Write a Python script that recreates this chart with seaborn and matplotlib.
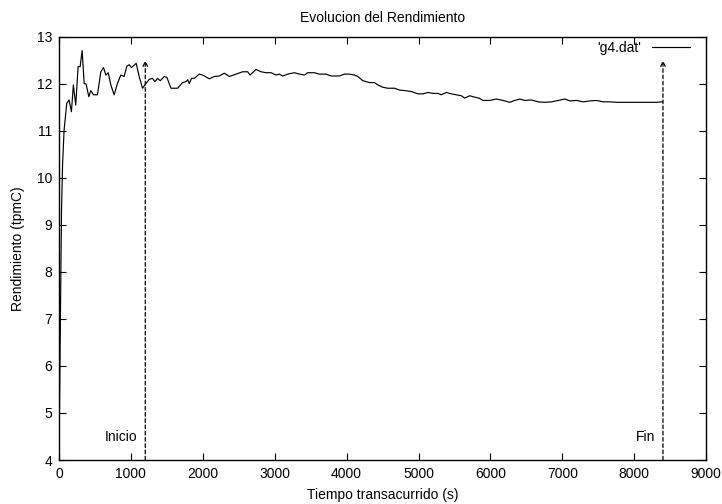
import matplotlib
matplotlib.use("Agg")
import matplotlib.pyplot as plt
import seaborn as sns
import pandas as pd

tiempo = [0, 10, 20, 35, 50, 71, 108, 140, 173, 200, 233, 266, 294, 322, 350, 377, 415, 443,
          480, 535, 582, 619, 652, 684, 721, 767, 813, 860, 906, 944, 976, 1008, 1046, 1074,
          1115, 1162, 1195, 1255, 1300, 1334, 1370, 1408, 1464, 1501, 1557, 1650, 1719, 1766,
          1789, 1812, 1844, 1882, 1951, 1998, 2091, 2160, 2230, 2299, 2369, 2462, 2554, 2624,
          2657, 2740, 2810, 2880, 2950, 3019, 3065, 3111, 3181, 3274, 3344, 3413, 3459, 3552,
          3622, 3715, 3785, 3901, 3970, 4040, 4110, 4156, 4226, 4319, 4388, 4434, 4504, 4574,
          4667, 4737, 4806, 4900, 4992, 5062, 5131, 5201, 5270, 5317, 5387, 5457, 5526, 5596,
          5642, 5712, 5781, 5841, 5897, 5990, 6083, 6175, 6268, 6338, 6408, 6478, 6571, 6663,
          6756, 6849, 6942, 7035, 7105, 7197, 7290, 7383, 7476, 7569, 7662, 7755, 7848, 7941,
          8033, 8126, 8219, 8312, 8396]
rendimiento = [4.0, 5.5, 7.2, 9.3, 10.3, 11.02, 11.59, 11.66, 11.41, 11.98, 11.55, 12.37, 12.37,
               12.71, 12.01, 12.0, 11.73, 11.86, 11.77, 11.77, 12.26, 12.35, 12.19, 12.24, 11.98,
               11.77, 12.01, 12.19, 12.16, 12.38, 12.41, 12.35, 12.40, 12.44, 12.16, 11.91, 11.98,
               12.10, 12.12, 12.05, 12.12, 12.07, 12.16, 12.14, 11.91, 11.91, 12.03, 12.05, 12.09,
               12.01, 12.12, 12.12, 12.21, 12.19, 12.11, 12.16, 12.17, 12.23, 12.16, 12.21, 12.26,
               12.26, 12.19, 12.31, 12.26, 12.24, 12.24, 12.19, 12.21, 12.17, 12.21, 12.24, 12.21,
               12.19, 12.24, 12.24, 12.21, 12.21, 12.17, 12.17, 12.21, 12.21, 12.19, 12.16, 12.07,
               12.03, 12.03, 11.98, 11.93, 11.91, 11.91, 11.87, 11.86, 11.84, 11.79, 11.79, 11.82,
               11.80, 11.80, 11.77, 11.82, 11.79, 11.77, 11.75, 11.70, 11.75, 11.72, 11.70, 11.65,
               11.65, 11.68, 11.65, 11.61, 11.65, 11.68, 11.65, 11.66, 11.62, 11.61, 11.62, 11.65,
               11.68, 11.64, 11.65, 11.62, 11.64, 11.65, 11.62, 11.62, 11.61, 11.61, 11.61, 11.61,
               11.61, 11.61, 11.61, 11.62]

marcas_x = [1200, 8400]
marcas_texto = ["Inicio", "Fin"]
marca_y_inicio = 4.0
marca_y_fin = 12.5

x_ticks = list(range(0, 9001, 1000))
y_ticks = list(range(4, 14))

sns.set_theme(style="ticks")
plt.rcParams["font.family"] = ["Liberation Sans", "DejaVu Sans"]
plt.rcParams["font.size"] = 10
plt.rcParams["text.color"] = "black"
plt.rcParams["axes.labelcolor"] = "black"
plt.rcParams["xtick.color"] = "black"
plt.rcParams["ytick.color"] = "black"

df = pd.DataFrame({"t": tiempo, "r": rendimiento})

fig = plt.figure(figsize=(7.22, 5.04), dpi=100)
ax = fig.add_axes([0.0817, 0.0873, 0.978 - 0.0817, 0.9266 - 0.0873])

sns.lineplot(data=df, x="t", y="r", ax=ax, color="black", linewidth=0.85,
             label="'g4.dat'", estimator=None, sort=False)

for xm, txt in zip(marcas_x, marcas_texto):
    ax.annotate("", xy=(xm, marca_y_fin), xytext=(xm, marca_y_inicio),
                arrowprops=dict(arrowstyle="->", color="black", lw=0.9,
                                linestyle=(0, (3, 2)), shrinkA=0, shrinkB=0,
                                mutation_scale=8))
    ax.text(xm - 110, 4.5, txt, ha="right", va="center", fontsize=10, color="black")

ax.set_xlim(0, 9000)
ax.set_ylim(4, 13)
ax.set_xticks(x_ticks)
ax.set_yticks(y_ticks)
ax.tick_params(direction="in", length=5, width=0.8, top=True, right=True,
               labelsize=10, colors="black", labelcolor="black", pad=5)
for s in ax.spines.values():
    s.set_visible(True)
    s.set_color("black")
    s.set_linewidth(1.0)

ax.set_title("Evolucion del Rendimiento", fontsize=10, pad=11, color="black")
ax.set_xlabel("Tiempo transacurrido (s)", fontsize=10, labelpad=5, color="black")
ax.set_ylabel("Rendimiento (tpmC)", fontsize=10, labelpad=8, color="black")

leg = ax.legend(loc="upper right", bbox_to_anchor=(0.975, 0.99), frameon=False,
                markerfirst=False, fontsize=10, handlelength=2.7, borderaxespad=0,
                borderpad=0, handletextpad=0.85, labelcolor="black")

fig.savefig("out.png", dpi=100)
